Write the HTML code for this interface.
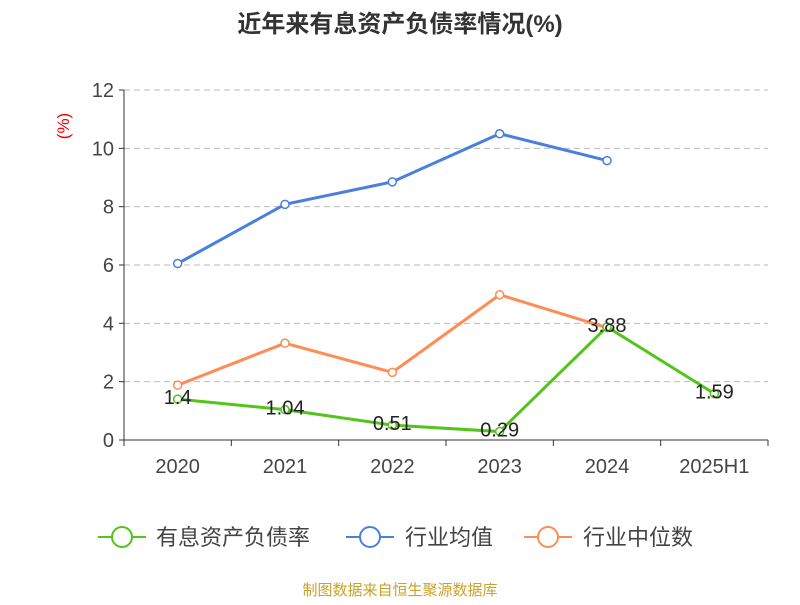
<!DOCTYPE html>
<html><head><meta charset="utf-8"><style>
body{margin:0;background:#fff;font-family:"Liberation Sans","Noto Sans CJK SC",sans-serif}
</style></head><body>
<svg width="800" height="600" xmlns="http://www.w3.org/2000/svg" font-family="Liberation Sans, Noto Sans CJK SC, sans-serif">
<text x="400" y="32" text-anchor="middle" font-size="24" font-weight="bold" fill="#333">近年来有息资产负债率情况(%)</text>
<text transform="translate(69,126) rotate(-90)" text-anchor="middle" font-size="17" fill="#e00">(%)</text>
<g id="grid"></g><g id="axes"></g><g id="series"></g>
<g>
<g><line x1="98" y1="537" x2="146" y2="537" stroke="#52c41a" stroke-width="2"/><circle cx="122" cy="537" r="10" fill="#fff" stroke="#52c41a" stroke-width="2"/><text x="156" y="545" font-size="22" fill="#444">有息资产负债率</text></g>
<g><line x1="346" y1="537" x2="394" y2="537" stroke="#4a7fe0" stroke-width="2"/><circle cx="370" cy="537" r="10" fill="#fff" stroke="#4a7fe0" stroke-width="2"/><text x="405" y="545" font-size="22" fill="#444">行业均值</text></g>
<g><line x1="524" y1="537" x2="572" y2="537" stroke="#ff8c55" stroke-width="2"/><circle cx="548" cy="537" r="10" fill="#fff" stroke="#ff8c55" stroke-width="2"/><text x="583" y="545" font-size="22" fill="#444">行业中位数</text></g>
</g>
<text x="400" y="595" text-anchor="middle" font-size="15" fill="#c9a227">制图数据来自恒生聚源数据库</text>
</svg>
<script>
const categories=["2020","2021","2022","2023","2024","2025H1"];
const debtRatio=[1.4,1.04,0.51,0.29,3.88,1.59];
const industryMean=[6.05,8.08,8.85,10.5,9.58];
const industryMedian=[1.88,3.32,2.32,4.98,3.85];
const yTicks=[0,2,4,6,8,10,12];
const NS="http://www.w3.org/2000/svg";
const x0=124,x1=768,y0=440,y1=90,yMax=12;
const bw=(x1-x0)/categories.length;
const xs=i=>x0+bw*(i+0.5);
const ys=v=>y0-(v/yMax)*(y0-y1);
function mk(t,a,p){const e=document.createElementNS(NS,t);for(const k in a)e.setAttribute(k,a[k]);p.appendChild(e);return e;}
const grid=document.getElementById('grid'),axes=document.getElementById('axes'),ser=document.getElementById('series');
yTicks.forEach(v=>{
 if(v>0){const g=mk('line',{x1:x0,x2:x1,y1:ys(v),y2:ys(v),stroke:'#bbb','stroke-dasharray':'6,4'},grid);
 
 }
 const tk=mk('line',{x1:x0-5,x2:x0,y1:ys(v),y2:ys(v),stroke:'#333'},axes);
 
 
 const t=mk('text',{x:x0-10,y:ys(v)+7,'text-anchor':'end','font-size':'20',fill:'#444'},axes);t.textContent=v;
 
 
});
const ya=mk('line',{x1:x0,x2:x0,y1:y1,y2:y0,stroke:'#333'},axes);


const xa=mk('line',{x1:x0,x2:x1,y1:y0,y2:y0,stroke:'#333'},axes);


for(let i=0;i<=categories.length;i++){const tk=mk('line',{x1:x0+bw*i,x2:x0+bw*i,y1:y0,y2:y0+6,stroke:'#333'},axes);
 
 }
categories.forEach((c,i)=>{const t=mk('text',{x:xs(i),y:473,'text-anchor':'middle','font-size':'20',fill:'#444'},axes);t.textContent=c;
 
 });
function series(arr,color,name,labels){
 const g=mk('g',{},ser);
 
 
 mk('polyline',{points:arr.map((v,i)=>xs(i)+','+ys(v)).join(' '),fill:'none',stroke:color,'stroke-width':3},g);
 arr.forEach((v,i)=>{const c=mk('circle',{cx:xs(i),cy:ys(v),r:4,fill:'#fff',stroke:color,'stroke-width':1.5},g);
  
  
  if(labels){const t=mk('text',{x:xs(i),y:ys(v)+5,'text-anchor':'middle','font-size':'20',fill:'#222'},g);t.textContent=v;
   
   }
 });
}
series(industryMean,'#4a7fe0','industry-mean-line',false);
series(industryMedian,'#ff8c55','industry-median-line',false);
series(debtRatio,'#52c41a','debt-ratio-line',true);
</script>
</body></html>
